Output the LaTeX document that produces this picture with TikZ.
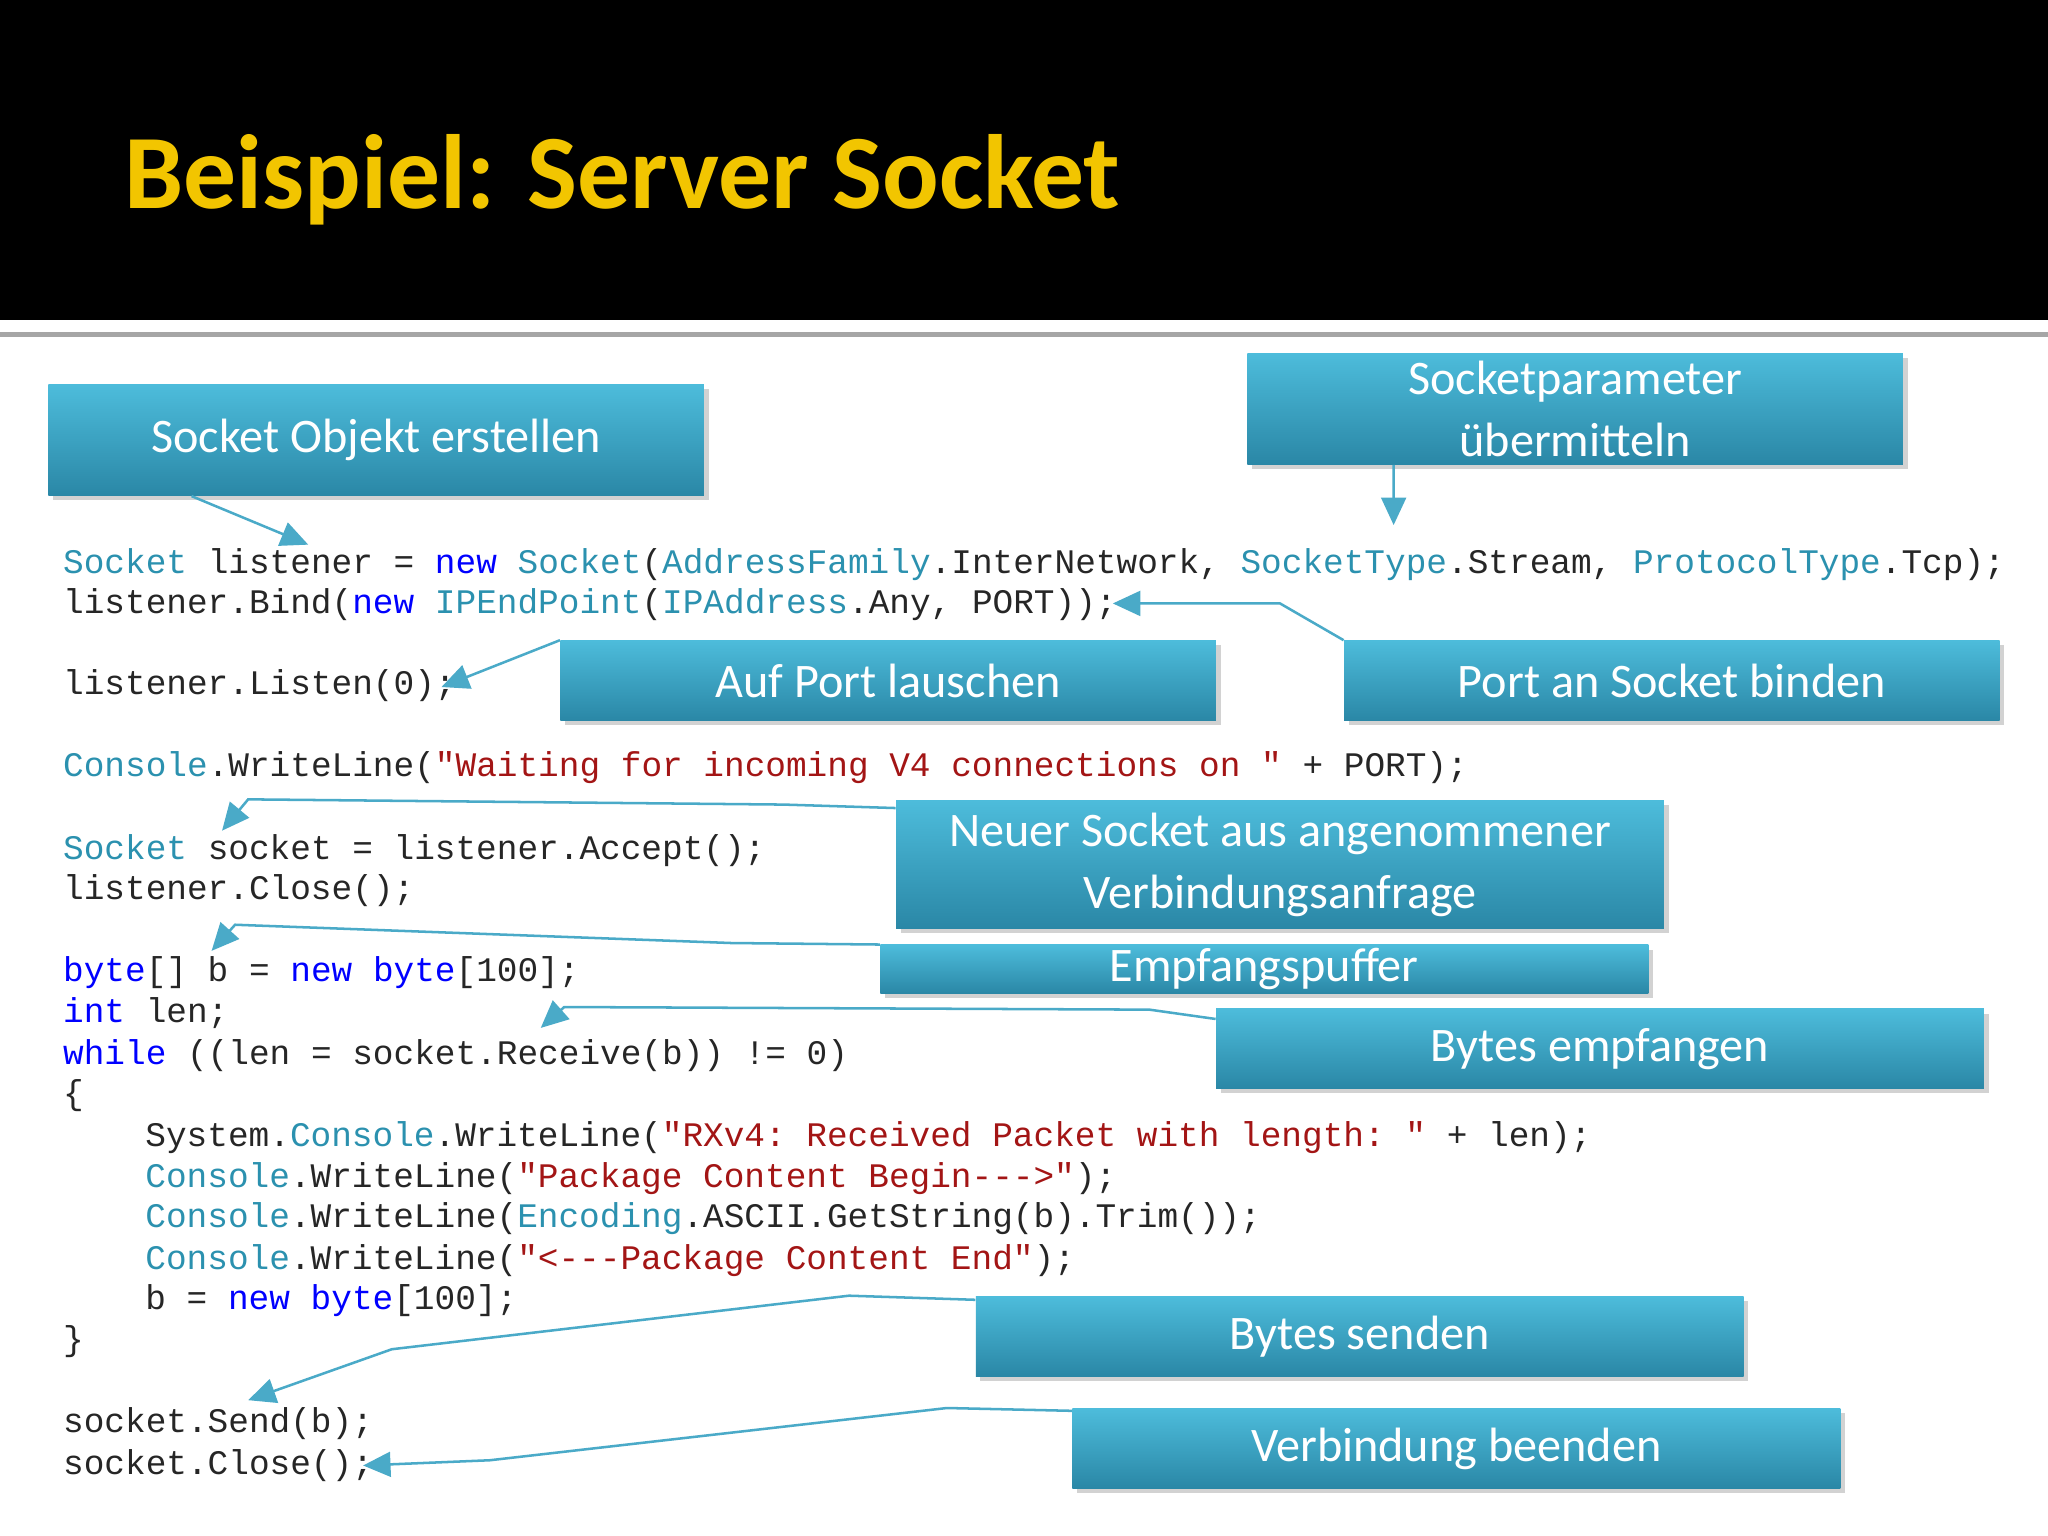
\documentclass[tikz,border=0pt]{standalone}
\usepackage{fontspec}
\setsansfont{Carlito}
\setmonofont{Liberation Mono}
\usetikzlibrary{arrows.meta,shadows}
\definecolor{ctype}{HTML}{2B91AF}
\definecolor{ckey}{HTML}{0000FF}
\definecolor{cstrg}{HTML}{A31515}
\definecolor{boxtop}{HTML}{4DBCDB}
\definecolor{boxbot}{HTML}{2A87A6}
\definecolor{linec}{HTML}{4AAAC8}
\definecolor{titley}{HTML}{F2C500}
\newcommand{\cty}[1]{\textcolor{ctype}{#1}}
\newcommand{\ckw}[1]{\textcolor{ckey}{#1}}
\newcommand{\cstr}[1]{\textcolor{cstrg}{#1}}
\tikzset{
  code/.style={anchor=west, inner sep=0pt, font=\ttfamily\fontsize{15}{18}\selectfont, text=black!85},
  box/.style={draw=none, top color=boxtop, bottom color=boxbot, text=white,
    font=\sffamily\fontsize{21}{27}\selectfont, align=center, inner sep=0pt,
    drop shadow={shadow xshift=2pt, shadow yshift=-2pt, opacity=0.35}},
  conn/.style={draw=linec, line width=1.1pt, -{Triangle[length=0.42cm,width=0.38cm]}}
}
\begin{document}
\begin{tikzpicture}[x=0.02cm, y=-0.02cm]
\useasboundingbox (0,0) rectangle (1568,1176);
\fill[white] (0,0) rectangle (1568,1176);
\fill[black] (0,0) rectangle (1568,245);
\draw[gray!70, line width=2pt] (0,256) -- (1568,256);
\node[anchor=west, inner sep=0pt, text=titley, font=\sffamily\bfseries\fontsize{46}{50}\selectfont] (title) at (95,138) {Beispiel: Server Socket};

% code lines
\node[code] (l1) at (48,432) {\cty{Socket} listener = \ckw{new} \cty{Socket}(\cty{AddressFamily}.InterNetwork, \cty{SocketType}.Stream, \cty{ProtocolType}.Tcp);};
\node[code] (l2) at (48,463) {listener.Bind(\ckw{new} \cty{IPEndPoint}(\cty{IPAddress}.Any, PORT));};
\node[code] (l3) at (48,525) {listener.Listen(0);};
\node[code] (l4) at (48,588) {\cty{Console}.WriteLine(\cstr{"Waiting for incoming V4 connections on "} + PORT);};
\node[code] (l5) at (48,651) {\cty{Socket} socket = listener.Accept();};
\node[code] (l6) at (48,682) {listener.Close();};
\node[code] (l7) at (48,745) {\ckw{byte}[] b = \ckw{new} \ckw{byte}[100];};
\node[code] (l8) at (48,776) {\ckw{int} len;};
\node[code] (l9) at (48,808) {\ckw{while} ((len = socket.Receive(b)) != 0)};
\node[code] (l10) at (48,839) {\{};
\node[code] (l11) at (111,871) {System.\cty{Console}.WriteLine(\cstr{"RXv4: Received Packet with length: "} + len);};
\node[code] (l12) at (111,902) {\cty{Console}.WriteLine(\cstr{"Package Content Begin--->"});};
\node[code] (l13) at (111,933) {\cty{Console}.WriteLine(\cty{Encoding}.ASCII.GetString(b).Trim());};
\node[code] (l14) at (111,965) {\cty{Console}.WriteLine(\cstr{"<---Package Content End"});};
\node[code] (l15) at (111,996) {b = \ckw{new} \ckw{byte}[100];};
\node[code] (l16) at (48,1027) {\}};
\node[code] (l17) at (48,1090) {socket.Send(b);};
\node[code] (l18) at (48,1122) {socket.Close();};

% callout boxes
\node[box, minimum width=10.04cm, minimum height=1.7cm] (ba) at (288,337) {Socket Objekt erstellen};
\node[box, minimum width=10.04cm, minimum height=1.7cm] (bb) at (1206,313) {Socketparameter\\übermitteln};
\node[box, minimum width=10.04cm, minimum height=1.22cm] (bc) at (680,521) {Auf Port lauschen};
\node[box, minimum width=10.04cm, minimum height=1.22cm] (bd) at (1280,521) {Port an Socket binden};
\node[box, minimum width=11.76cm, minimum height=1.96cm] (be) at (980,662) {Neuer Socket aus angenommener\\Verbindungsanfrage};
\node[box, minimum width=11.76cm, minimum height=0.74cm] (bf) at (968,742) {Empfangspuffer};
\node[box, minimum width=11.76cm, minimum height=1.22cm] (bg) at (1225,803) {Bytes empfangen};
\node[box, minimum width=11.76cm, minimum height=1.22cm] (bh) at (1041,1023) {Bytes senden};
\node[box, minimum width=11.76cm, minimum height=1.22cm] (bi) at (1115,1109) {Verbindung beenden};

% connector ends
\coordinate (ta) at (236,417);
\coordinate (tb) at (1067,402);
\coordinate (tc) at (338,526);
\coordinate (td) at (852,462);
\coordinate (te) at (170,636);
\coordinate (tf) at (162,728);
\coordinate (tg) at (414,787);
\coordinate (th) at (190,1072);
\coordinate (ti) at (278,1122);

\draw[conn] ([xshift=2.2cm]ba.south west) -- (ta);
\draw[conn] ([xshift=-2.78cm]bb.south) -- (tb);
\draw[conn] (bc.north west) -- (tc);
\draw[conn] (bd.north west) -- (980,462) -- (td);
\draw[conn] ([yshift=-0.12cm]be.north west) -- (600,616) -- (190,612) -- (te);
\draw[conn] (bf.north west) -- (560,722) -- (180,708) -- (tf);
\draw[conn] ([yshift=-0.16cm]bg.north west) -- (880,773) -- (432,771) -- (tg);
\draw[conn] ([yshift=-0.06cm]bh.north west) -- (650,992) -- (300,1033) -- (th);
\draw[conn] ([yshift=-0.04cm]bi.north west) -- (725,1078) -- (375,1118) -- (ti);
\end{tikzpicture}
\end{document}
